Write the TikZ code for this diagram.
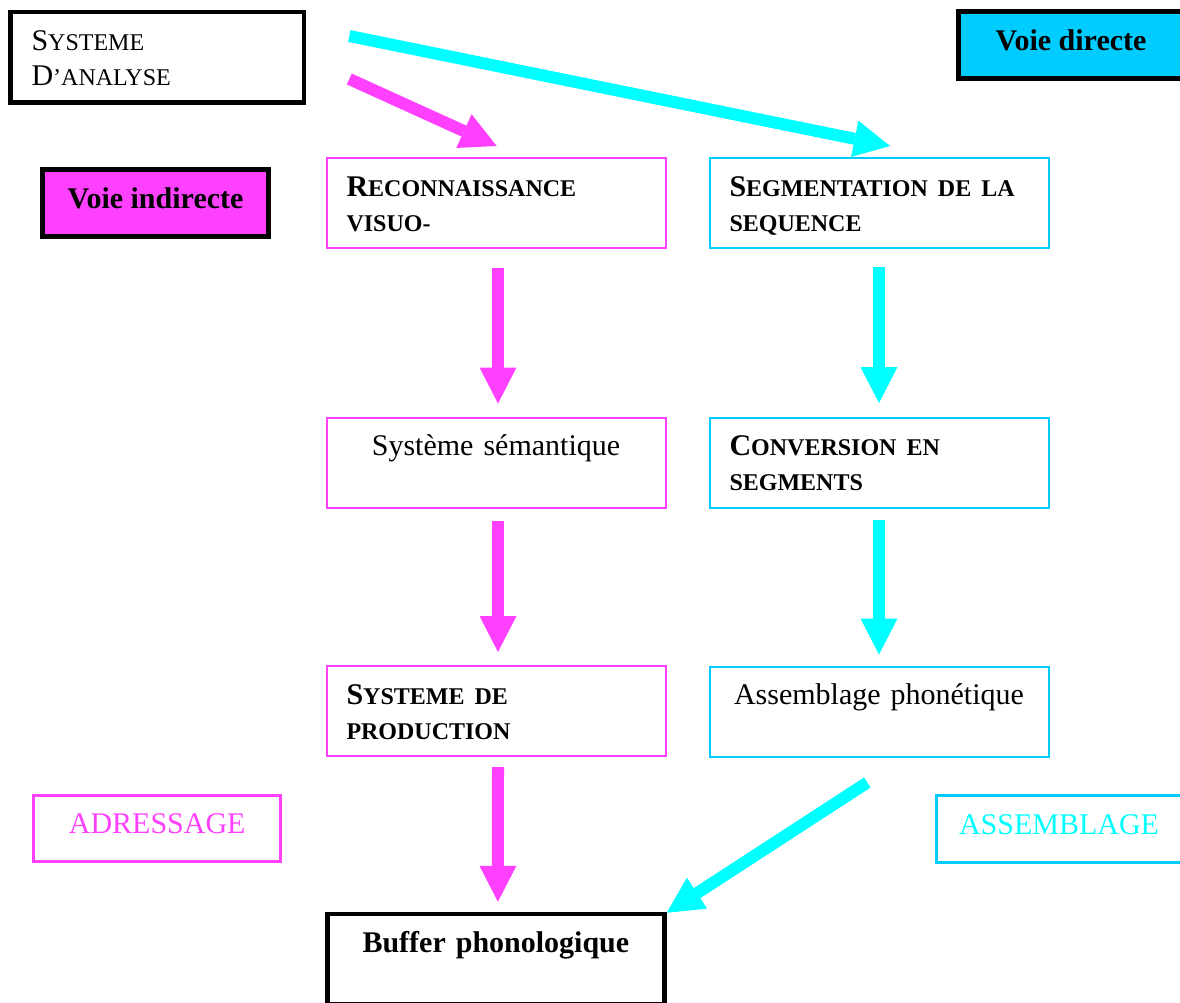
\documentclass[tikz,border=0pt]{standalone}
\usepackage{fontspec}
\setmainfont{Liberation Serif}
\usetikzlibrary{arrows.meta}

\definecolor{rose}{RGB}{255,64,255}
\definecolor{turq}{RGB}{0,255,255}
\definecolor{ciel}{RGB}{0,204,255}
% fake small caps
\newcommand{\petit}[1]{{\fontsize{24}{35}\selectfont #1}}

\begin{document}
\begin{tikzpicture}[x=1pt, y=-1pt,
    font=\fontsize{30}{35}\selectfont,
    boite/.style={draw, line width=2pt, minimum width=339pt, minimum height=90pt,
        text width=299pt, inner xsep=20pt, inner ysep=0pt,
        text height=30pt, text depth=44pt},
    etiquette/.style={draw, line width=3pt, inner sep=0pt,
        text height=20pt, text depth=10pt},
    rosearrow/.style={rose, line width=12pt,
        -{Triangle[length=36pt, width=37pt, line width=0pt]}},
    turqarrow/.style={turq, line width=12pt,
        -{Triangle[length=36pt, width=37pt, line width=0pt]}}]
    \useasboundingbox (0,0) rectangle (1180,1002);

    % Entree
    \node[boite, line width=4.5pt, minimum width=293.5pt, minimum height=90.5pt,
        text width=251.5pt, inner xsep=21pt, align=left] (analyse) at (157.3,57)
        {S\petit{YSTEME}\\D\petit{’ANALYSE}};

    % Legende des voies
    \node[etiquette, line width=5pt, fill=rose, minimum width=226pt, minimum height=67.6pt]
        (indirecte) at (155.5,203) {\textbf{Voie indirecte}};
    \node[etiquette, line width=5pt, fill=ciel, minimum width=225pt, minimum height=66.7pt]
        (directe) at (1071,45.2) {\textbf{Voie directe}};

    % Voie indirecte (adressage)
    \node[boite, draw=rose, align=left] (recon) at (496,203)
        {\textbf{R\petit{ECONNAISSANCE}\\\petit{VISUO-}}};
    \node[boite, draw=rose, align=center] (sem) at (496,462.5)
        {Système sémantique};
    \node[boite, draw=rose, align=left] (prod) at (496,711)
        {\textbf{S\petit{YSTEME DE}\\\petit{PRODUCTION}}};

    % Voie directe (assemblage)
    \node[boite, draw=ciel, align=left] (segm) at (879,203)
        {\textbf{S\petit{EGMENTATION DE LA}\\\petit{SEQUENCE}}};
    \node[boite, draw=ciel, align=left] (conv) at (879,462.5)
        {\textbf{C\petit{ONVERSION EN}\\\petit{SEGMENTS}}};
    \node[boite, draw=ciel, align=center] (phon) at (879,711.5)
        {Assemblage phonétique};

    % Sortie
    \node[boite, line width=4.5pt, minimum width=337.3pt, text width=297.3pt, align=center]
        (buffer) at (495.9,959) {\textbf{Buffer phonologique}};

    \node[etiquette, draw=rose, text=rose, minimum width=246.5pt, minimum height=66pt]
        (adr) at (157.2,828.8) {ADRESSAGE};
    \node[etiquette, draw=ciel, text=turq, minimum width=246pt, minimum height=67.5pt]
        (assem) at (1059,829.2) {ASSEMBLAGE};

    % Fleches
    \draw[rosearrow] ([xshift=43pt, yshift=-22pt]analyse.east) -- ([xshift=0.7pt, yshift=11pt]recon.north);
    \draw[turqarrow] ([xshift=43pt, yshift=21pt]analyse.east) -- ([xshift=11pt, yshift=11pt]segm.north);

    \foreach \a/\b/\s/\t in {recon/sem/19/13, sem/prod/12.5/13, prod/buffer/10/10}
        \draw[rosearrow] ([xshift=2pt, yshift=-\s pt]\a.south) -- ([xshift=2pt, yshift=\t pt]\b.north);
    \foreach \a/\b/\s/\t in {segm/conv/18/13.5, conv/phon/11.5/11}
        \draw[turqarrow] ([yshift=-\s pt]\a.south) -- ([yshift=\t pt]\b.north);

    \draw[turqarrow] ([xshift=-11.7pt, yshift=-25pt]phon.south) -- ([yshift=-1pt]buffer.north east);
\end{tikzpicture}
\end{document}
